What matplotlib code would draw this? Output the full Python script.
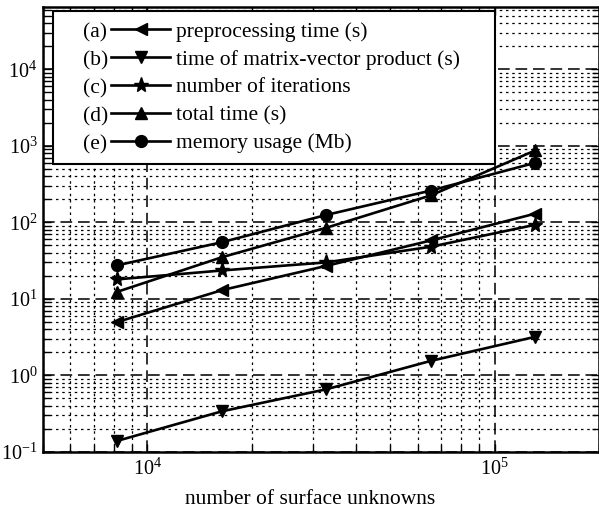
import numpy as np
import matplotlib
matplotlib.use("Agg")
import matplotlib.pyplot as plt
from matplotlib.legend_handler import HandlerBase
from matplotlib.lines import Line2D
from matplotlib.text import Text
from matplotlib.ticker import LogLocator, NullFormatter

plt.rcParams['font.family'] = ['Liberation Serif', 'DejaVu Serif']
plt.rcParams['mathtext.fontset'] = 'custom'
plt.rcParams['mathtext.rm'] = 'Liberation Serif'
plt.rcParams['mathtext.it'] = 'Liberation Serif:italic'
plt.rcParams['mathtext.bf'] = 'Liberation Serif:bold'

# number of surface unknowns
unknowns = [8192, 16384, 32768, 65536, 131072]

preprocessing_time = [5.0, 13.0, 27.0, 58.0, 130.0]
matvec_time = [0.14, 0.34, 0.66, 1.55, 3.2]
iterations = [18.0, 23.5, 30.0, 48.0, 93.0]
total_time = [12.4, 35.0, 85.0, 225.0, 870.0]
memory_usage = [27.5, 55.0, 125.0, 260.0, 600.0]

tags = ['(a)', '(b)', '(c)', '(d)', '(e)']
labels = ['preprocessing time (s)', 'time of matrix-vector product (s)',
          'number of iterations', 'total time (s)', 'memory usage (Mb)']
markers = ['<', 'v', '*', '^', 'o']
series = [preprocessing_time, matvec_time, iterations, total_time, memory_usage]
msizes = [9, 9, 11, 9, 8.5]

FS = 15.5


class TaggedHandler(HandlerBase):
    """Legend key drawn as '(x) ---marker---'."""

    def __init__(self, tag):
        super().__init__()
        self.tag = tag

    def create_artists(self, legend, orig_handle, xdescent, ydescent,
                       width, height, fontsize, trans):
        x0 = -xdescent
        y = -ydescent + height / 2.0
        tag = Text(x0 + 0.88 * fontsize, y - 0.06 * fontsize, self.tag,
                   ha='left', va='center_baseline',
                   fontsize=fontsize, family='Liberation Serif',
                   transform=trans)
        xs = x0 + 2.2 * fontsize
        xe = x0 + width
        line = Line2D([xs, xe], [y, y], color='black',
                      lw=orig_handle.get_linewidth(), transform=trans)
        mk = Line2D([(xs + xe) / 2.0], [y], marker=orig_handle.get_marker(),
                    markersize=orig_handle.get_markersize(), color='black',
                    linestyle='none', transform=trans)
        return [tag, line, mk]


fig = plt.figure(figsize=(5.99, 5.11), dpi=100)
ax = fig.add_axes([43 / 599, 1 - 452 / 511, 556 / 599, 445 / 511])

handles = []
for vals, mk, ms, lab in zip(series, markers, msizes, labels):
    h, = ax.plot(unknowns, vals, color='black', lw=1.9, marker=mk,
                 markersize=ms, markerfacecolor='black',
                 markeredgecolor='black', label=lab, zorder=3)
    handles.append(h)

ax.set_xscale('log')
ax.set_yscale('log')
ax.set_xlim(5000, 2e5)
ax.set_ylim(0.1, 6.5e4)

ax.xaxis.set_major_locator(LogLocator(base=10, numticks=10))
ax.yaxis.set_major_locator(LogLocator(base=10, numticks=12))
ax.xaxis.set_minor_locator(LogLocator(base=10, subs=np.arange(2, 10), numticks=12))
ax.yaxis.set_minor_locator(LogLocator(base=10, subs=np.arange(2, 10), numticks=12))
ax.xaxis.set_minor_formatter(NullFormatter())
ax.yaxis.set_minor_formatter(NullFormatter())

ax.grid(True, which='major', color='#333333', linestyle=(0, (6, 3)), lw=1.4)
ax.grid(True, which='minor', color='black', linestyle=(0, (2, 3)), lw=0.9)
ax.set_axisbelow(True)

ax.tick_params(which='both', direction='in', top=True, right=True,
               width=1.0, labelsize=14.5)
ax.tick_params(which='major', length=6)
ax.tick_params(which='minor', length=5)
ax.tick_params(axis='x', pad=5)
ax.tick_params(axis='y', pad=4)
for sp in ax.spines.values():
    sp.set_linewidth(1.8)

ax.set_xlabel('number of surface unknowns', fontsize=FS)
ax.xaxis.set_label_coords((310 - 43) / 556, -0.085)

leg = ax.legend(handles=handles, labels=labels,
                handler_map={h: TaggedHandler(t) for h, t in zip(handles, tags)},
                loc='upper left', bbox_to_anchor=(0.018, 0.649, 0.795, 0.342),
                mode='expand', fontsize=FS, handlelength=4.93,
                handletextpad=0.28, borderpad=0.5, labelspacing=0.36,
                borderaxespad=0.0, fancybox=False, framealpha=1.0,
                edgecolor='black')
leg.get_frame().set_linewidth(1.5)
leg.set_zorder(5)

fig.savefig('out.png', dpi=100)
